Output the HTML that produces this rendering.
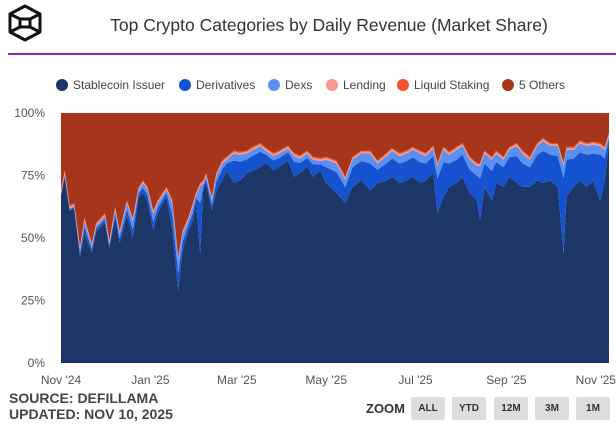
<!DOCTYPE html>
<html><head><meta charset="utf-8"><style>
body{margin:0;background:#fff;font-family:"Liberation Sans",sans-serif;}
#wrap{position:relative;width:616px;height:425px;overflow:hidden;background:#fff;}
.t{position:absolute;white-space:nowrap;}
.btn{position:absolute;top:397px;width:34px;height:23px;background:#ddd;border-radius:2px;font-size:10px;font-weight:bold;color:#333;text-align:center;line-height:23px;}
</style></head><body>
<div id="wrap">
<svg class="t" style="left:8px;top:4px" width="34" height="38" viewBox="0 0 34 38">
<path d="M17 2 L32 10 L32 28 L17 36 L2 28 L2 10 Z M2 10 L12 15 M32 10 L22 15 M2 28 L12 23 M32 28 L22 23 M12 15 L22 15 L22 23 L12 23 Z" fill="none" stroke="#111" stroke-width="3" stroke-linejoin="round"/>
</svg>
<div class="t" style="left:0;width:658px;top:15px;text-align:center;font-size:17.5px;color:#333">Top Crypto Categories by Daily Revenue (Market Share)</div>
<div class="t" style="left:8px;top:53px;width:608px;height:2px;background:#8e24aa"></div>
<div id="legend"></div>
<svg id="chart" class="t" style="left:0;top:0" width="616" height="425"></svg>
<div class="t" style="left:9px;top:390px;font-size:14px;font-weight:bold;color:#444;line-height:16px">SOURCE: DEFILLAMA<br>UPDATED: NOV 10, 2025</div>
<div class="t" style="left:366px;top:401px;font-size:13px;font-weight:bold;color:#333">ZOOM</div>
<div class="btn" style="left:411px">ALL</div>
<div class="btn" style="left:452px">YTD</div>
<div class="btn" style="left:494px">12M</div>
<div class="btn" style="left:535px">3M</div>
<div class="btn" style="left:576px">1M</div>
</div>
<script>
const days=[0,2.5,6,9,13,16,21,24,30,33,37,40,45,49,53,56,59,63,66,72,76,80,83,87,90,92,95,97,99,103,106,110,113,118,122,127,131,136,140,145,149,155,159,163,168,172,177,181,188,194,199,205,211,216,222,226,231,236,240,245,249,254,257,261,265,270,274,279,284,286,289,294,297,302,306,311,315,320,325,329,334,339,343,345,350,354,359,363,368,371,374];
const stable=[67,74.5,61,62,42.5,52,44,52.5,56,46,58,48,59,50,66.5,68,65,53,60,66.5,53,29,45,53,57,65,44,69,72,61,69,73,77,72,73,76,77,78.5,80,77,78.5,81,74.5,76,78.5,74.5,77,72,68,64,70.5,73,69,72,73,74.5,72,73,74.5,72,73,76,60,66.5,70.5,72,74.5,68,65,57,70.5,65,72,70.5,74.5,72,70.5,70.5,73,72,73,70.5,44,66.5,70.5,73,70.5,73,65,73,88];
const deriv=[0.4,0.6,0.4,0.4,1.5,2.5,1.5,1.3,1.5,1,1.8,2,2.5,3.5,1.5,2,2.3,3.5,2,1.5,6,7,3.5,2.3,3,1,20,1.5,1.5,2.3,3.5,4.5,2.8,9,7.5,5.5,6,6,3.3,4,3.5,3.3,6,4,3.5,5,2.5,6.3,8.3,6.3,7.8,7.8,10.8,5.3,6.8,7.3,7.8,7.8,7.8,8.3,6.8,6.8,13.8,13.8,9.3,9.3,8.8,9.3,9.8,16.8,9.3,11.8,8.3,7.8,7.8,10.8,9.3,7.8,10.3,12.8,10.3,12.3,30,14.8,11.3,11.3,12.8,10.8,18.3,8.8,1.8];
const dexs=[0.4,0.7,0.4,0.4,1.3,2.3,1.3,1,1.3,0.8,1.5,1.8,2.3,3.3,1.3,1.8,2,3.3,1.8,1.3,4.8,5.3,3.3,2,2.8,0.8,6.8,1.3,1.3,2,2.3,2.3,1.5,2.8,2.8,2.3,2.3,2.3,1.5,1.8,1.8,1.5,2.3,1.8,1.8,1.8,1.3,3,3.5,3,3,3,4,2.5,3,3,3,3,3,3.5,3,3,5,5,3.5,4,3.5,4,4,5,4,4.5,3.5,3,3,4,4,3,3.5,4,3.5,4,4.8,4,3.5,3.5,3.5,3.5,3.5,3.5,1];
const lending=[0.7,0.7,0.7,0.7,0.7,0.7,0.7,0.7,0.7,0.7,0.7,0.7,0.7,0.7,0.7,0.7,0.7,0.7,0.7,0.7,0.7,0.7,0.7,0.7,0.7,0.7,0.7,0.7,0.7,0.7,0.7,0.7,0.7,0.7,0.7,0.7,0.7,0.7,0.7,0.7,0.7,0.7,0.7,0.7,0.7,0.7,0.7,0.7,0.7,0.7,0.7,0.7,0.7,0.7,0.7,0.7,0.7,0.7,0.7,0.7,0.7,0.7,0.7,0.7,0.7,0.7,0.7,0.7,0.7,0.7,0.7,0.7,0.7,0.7,0.7,0.7,0.7,0.7,0.7,0.7,0.7,0.7,0.7,0.7,0.7,0.7,0.7,0.7,0.7,0.7,0.7];
const liquid=[0.5,0.5,0.5,0.5,0.5,0.5,0.5,0.5,0.5,0.5,0.5,0.5,0.5,0.5,0.5,0.5,0.5,0.5,0.5,0.5,0.5,0.5,0.5,0.5,0.5,0.5,0.5,0.5,0.5,0.5,0.5,0.5,0.5,0.5,0.5,0.5,0.5,0.5,0.5,0.5,0.5,0.5,0.5,0.5,0.5,0.5,0.5,0.5,0.5,0.5,0.5,0.5,0.5,0.5,0.5,0.5,0.5,0.5,0.5,0.5,0.5,0.5,0.5,0.5,0.5,0.5,0.5,0.5,0.5,0.5,0.5,0.5,0.5,0.5,0.5,0.5,0.5,0.5,0.5,0.5,0.5,0.5,0.5,0.5,0.5,0.5,0.5,0.5,0.5,0.5,0.5];
const others=[31,23,37,36,53.5,42,52,44,40,51,37.5,47,35,42,29.5,27,29.5,39,35,29.5,35,57.5,47,41.5,36,32,28,27,24,33.5,24,19,17.5,15,15.5,15,13.5,12,14,16,15,13,16,17,15,17.5,18,17.5,19,25.5,17.5,15,15,19,16,14,16,15,13.5,15,16,13,20,13.5,15.5,13.5,12,17.5,20,20,15,17.5,15,17.5,13.5,12,15,17.5,12,10,12,12,20,13.5,13.5,11,12,11.5,12,13.5,8];
const seriesNames=["Stablecoin Issuer","Derivatives","Dexs","Lending","Liquid Staking","5 Others"];
const yTicks=[0,25,50,75,100];
const xTickLabels=["Nov '24","Jan '25","Mar '25","May '25","Jul '25","Sep '25","Nov '25"];
const xTickDays=[0,61,120,181,242,304,365];

const colors=["#1c3668","#1452d0","#5d8ff0","#f59a88","#f4522d","#a5361b"];
const X0=61,X1=609,Y0=363,Y1=113,DMAX=374;
const xs=d=>X0+(d/DMAX)*(X1-X0);
const ys=p=>Y0-(p/100)*(Y0-Y1);
const NS="http://www.w3.org/2000/svg";
const svg=document.getElementById('chart');
const series=[stable,deriv,dexs,lending,liquid,others];
const totals=days.map((_,i)=>series.reduce((s,a)=>s+a[i],0));
let cum=days.map(()=>0);
series.forEach((arr,k)=>{
  const lower=cum.slice();
  const upper=cum.map((c,i)=>c+arr[i]/totals[i]*100);
  let d="M"+days.map((dd,i)=>xs(dd).toFixed(2)+","+ys(upper[i]).toFixed(2)).join(" L");
  for(let i=days.length-1;i>=0;i--) d+=" L"+xs(days[i]).toFixed(2)+","+ys(lower[i]).toFixed(2);
  d+=" Z";
  const p=document.createElementNS(NS,"path");
  p.setAttribute("d",d);p.setAttribute("fill",colors[k]);
  
  
  svg.appendChild(p);
  cum=upper;
});
yTicks.forEach(v=>{
  const t=document.createElementNS(NS,"text");
  t.setAttribute("x",45);t.setAttribute("y",ys(v)+4);t.setAttribute("text-anchor","end");
  t.setAttribute("font-size","12");t.setAttribute("fill","#555");t.setAttribute("font-family","Liberation Sans, sans-serif");
  t.textContent=v+"%";
  
  
  svg.appendChild(t);
});
xTickLabels.forEach((lab,i)=>{
  const t=document.createElementNS(NS,"text");
  t.setAttribute("x",xs(xTickDays[i]));t.setAttribute("y",384);t.setAttribute("text-anchor","middle");
  t.setAttribute("font-size","12");t.setAttribute("fill","#555");t.setAttribute("font-family","Liberation Sans, sans-serif");
  t.textContent=lab;
  
  
  svg.appendChild(t);
});
const leg=document.getElementById('legend');
const legX=[56,179,268,326,397,502];
seriesNames.forEach((n,k)=>{
  const e=document.createElement('div');
  e.className='t';
  e.style.cssText=`left:${legX[k]}px;top:78px;font-size:12px;color:#444;line-height:14px`;
  e.innerHTML=`<span style="display:inline-block;width:12px;height:12px;border-radius:50%;background:${colors[k]};vertical-align:-2px;margin-right:5px"></span>${n}`;
  
  
  leg.appendChild(e);
});
</script>
</body></html>
